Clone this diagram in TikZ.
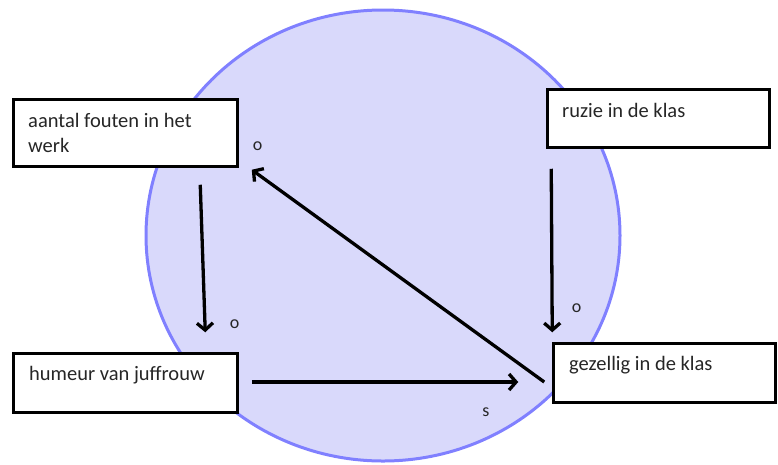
\documentclass[tikz,border=0pt]{standalone}
\usepackage{fontspec}
\setmainfont{Carlito}
\usetikzlibrary{arrows.meta,calc}
\definecolor{discfill}{RGB}{217,217,251}
\definecolor{discline}{RGB}{128,128,255}
\begin{document}
\begin{tikzpicture}[x=1pt,y=-1pt,
  box/.style={draw=black,line width=3.5pt,fill=white,inner sep=0pt,rectangle},
  txt/.style={inner sep=0pt,font=\fontsize{20.5}{25}\selectfont,text=black!85},
  lbl/.style={inner sep=0pt,font=\fontsize{18}{21}\selectfont,text=black!85},
  arr/.style={line width=3.3pt,-{Straight Barb[length=7pt,width=16pt]}}]
\useasboundingbox (0,0) rectangle (778,464);
% background disc
\draw[fill=discfill,draw=discline,line width=3pt] (383,235.5) ellipse [x radius=237, y radius=225.5];
% boxes
\node[box,minimum width=224pt,minimum height=67pt] (b1) at (125.5,133) {};
\node[box,minimum width=222pt,minimum height=58pt] (b2) at (658.5,118.5) {};
\node[box,minimum width=224pt,minimum height=59pt] (b3) at (125.5,383) {};
\node[box,minimum width=222pt,minimum height=59pt] (b4) at (664.5,373) {};
% texts
\node[txt,anchor=base west] (t1) at (28,127) {\begin{tabular}[t]{@{}l@{}}aantal fouten in het\\werk\end{tabular}};
\node[txt,anchor=base west] (t2) at (562,117) {ruzie in de klas};
\node[txt,anchor=base west] (t3) at (29,380) {humeur van juffrouw};
\node[txt,anchor=base west] (t4) at (569,370) {gezellig in de klas};
% arrows
\draw[arr] ($(b1.south west)+(188.5,16.5)$) -- ($(b3.north west)+(193.5,-19.5)$);
\draw[arr] ($(b2.south west)+(5.5,19.5)$) -- ($(b4.north west)+(0.5,-9.5)$);
\draw[arr] ($(b3.east)+(12.5,-1)$) -- ($(b4.west)+(-33.5,9)$);
\draw[arr] ($(b4.west)+(-7.5,9)$) -- ($(b1.south east)+(12.5,1.5)$);
% labels
\node[lbl] (l1) at (257.5,146) {o};
\node[lbl] (l2) at (234.5,324) {o};
\node[lbl] (l3) at (576.5,308) {o};
\node[lbl] (l4) at (486,412) {s};
\end{tikzpicture}
\end{document}
